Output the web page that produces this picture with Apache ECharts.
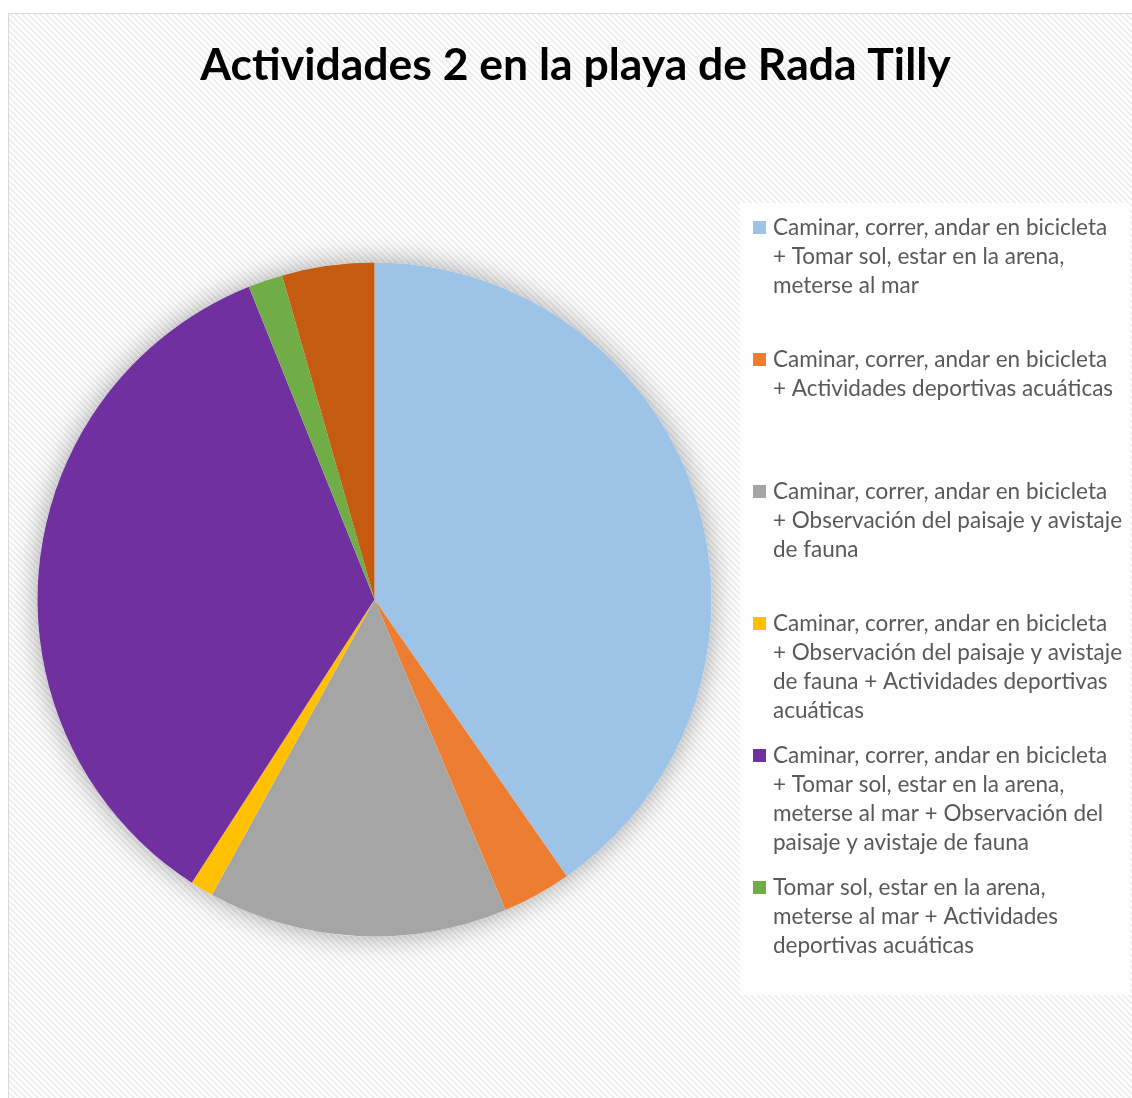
<!DOCTYPE html>
<html>
<head>
<meta charset="utf-8">
<script src="https://cdn.jsdelivr.net/npm/echarts@6/dist/echarts.min.js"></script>
<style>
  html, body { margin: 0; padding: 0; width: 1132px; height: 1098px; overflow: hidden; background: #ffffff; }
  #frame {
    position: absolute; left: 8px; top: 13px; width: 1200px; height: 1200px;
    border: 1px solid #d9d9d9; box-sizing: border-box;
    background: repeating-linear-gradient(45deg, #ffffff 0px, #ffffff 2.12px, #f0f0f0 2.12px, #f0f0f0 4.243px);
  }
  #chart { position: absolute; left: 0; top: 0; width: 1132px; height: 1098px; }
</style>
</head>
<body>
<div id="frame"></div>
<div id="chart"></div>
<script>
// ---- Data ----
const titleText = 'Actividades 2 en la playa de Rada Tilly';

const categories = [
  'Caminar, correr, andar en bicicleta\n+ Tomar sol, estar en la arena,\nmeterse al mar',
  'Caminar, correr, andar en bicicleta\n+ Actividades deportivas acuáticas',
  'Caminar, correr, andar en bicicleta\n+ Observación del paisaje y avistaje\nde fauna',
  'Caminar, correr, andar en bicicleta\n+ Observación del paisaje y avistaje\nde fauna + Actividades deportivas\nacuáticas',
  'Caminar, correr, andar en bicicleta\n+ Tomar sol, estar en la arena,\nmeterse al mar + Observación del\npaisaje y avistaje de fauna',
  'Tomar sol, estar en la arena,\nmeterse al mar + Actividades\ndeportivas acuáticas',
  'Tomar sol, estar en la arena,\nmeterse al mar + Observación del\npaisaje y avistaje de fauna'
];

const values = [73, 6, 26, 2, 63, 3, 8];

// number of categories shown in the legend (the 7th was cut off in the original)
const legendCount = 6;

const colors = ['#9DC3E6', '#ED7D31', '#A5A5A5', '#FFC000', '#7030A0', '#70AD47', '#C55A11'];

// ---- Build options ----
const total = values.reduce((a, b) => a + b, 0);
const pieData = categories.map((c, i) => ({ name: c, value: values[i], itemStyle: { color: colors[i] } }));

const rich = {
  g: { width: 7, lineHeight: 29 },
  ind: { width: 20, lineHeight: 29 },
  t: { fontFamily: 'Lato', fontSize: 22.5, color: '#595959', lineHeight: 29 }
};
colors.forEach((c, i) => {
  rich['s' + i] = { width: 13, height: 13, backgroundColor: c, lineHeight: 29 };
});

const chart = echarts.init(document.getElementById('chart'), null, { renderer: 'canvas' });
chart.setOption({
  animation: false,
  backgroundColor: 'transparent',
  title: {
    text: titleText,
    left: 570.5,
    textAlign: 'center',
    top: 38,
    textStyle: { fontFamily: 'Lato', fontSize: 44.5, fontWeight: 'bold', color: '#000000' }
  },
  legend: {
    orient: 'vertical',
    left: 740,
    top: 203,
    padding: [10, 7, 6, 8],
    backgroundColor: 'rgba(255,255,255,0.85)',
    itemGap: 16,
    itemWidth: 0,
    itemHeight: 0,
    icon: 'none',
    selectedMode: false,
    data: categories.slice(0, legendCount),
    formatter: function (name) {
      const i = categories.indexOf(name);
      const lines = name.split('\n');
      return lines.map((l, k) => (k === 0 ? '{s' + i + '|}{g|}' : '{ind|}') + '{t|' + l + '}').join('\n');
    },
    textStyle: { width: 370, height: 116, lineHeight: 29, fontFamily: 'Lato', fontSize: 22.5, color: '#595959', rich: rich }
  },
  series: [
    {
      type: 'pie',
      name: 'shadow',
      silent: true,
      center: [374.5, 599.5],
      radius: 337,
      label: { show: false },
      labelLine: { show: false },
      data: [{ name: '', value: total, itemStyle: { color: '#ffffff', shadowBlur: 28, shadowColor: 'rgba(0,0,0,0.35)' } }]
    },
    {
      type: 'pie',
      name: titleText,
      center: [374.5, 599.5],
      radius: 337,
      startAngle: 90,
      clockwise: true,
      label: { show: false },
      labelLine: { show: false },
      itemStyle: { borderWidth: 0 },
      emphasis: { disabled: true },
      data: pieData
    }
  ]
});
</script>
</body>
</html>
